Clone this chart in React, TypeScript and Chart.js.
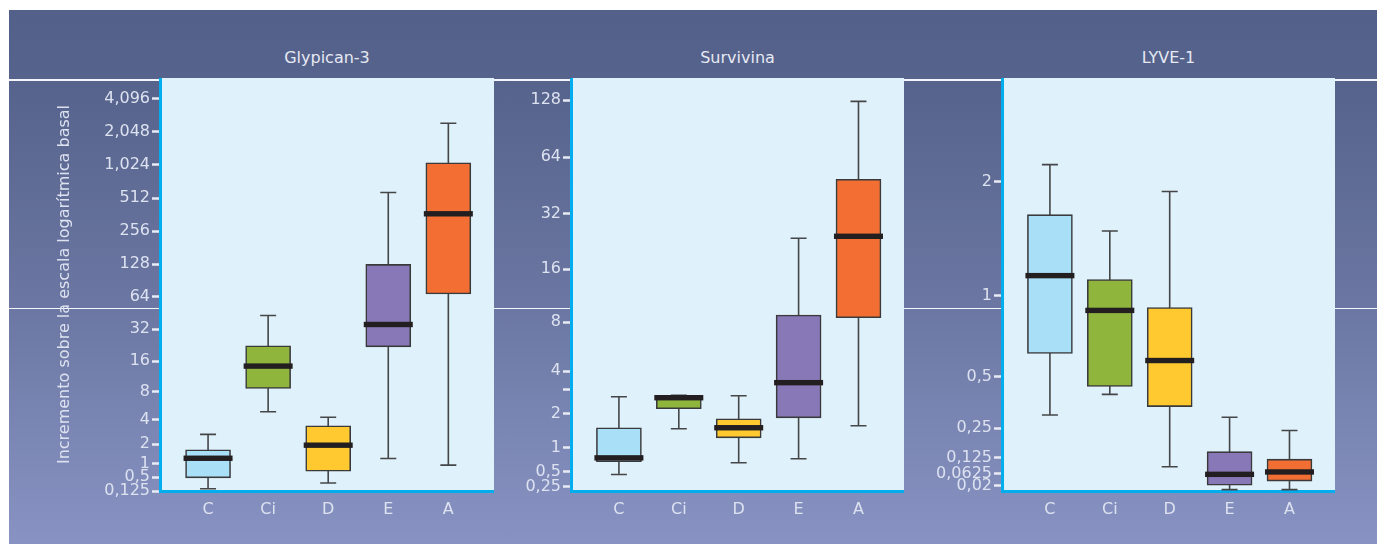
import React, { useEffect, useRef } from 'react';
import { Chart, registerables } from 'chart.js';

Chart.register(...registerables);

// ---------- data ----------
const groups = ['C', 'Ci', 'D', 'E', 'A'];
const boxColors = ['#aadff8', '#8fb53d', '#ffc92f', '#8878b8', '#f26e32'];

// Glypican-3
const glyMin = [0.18, 4.9, 0.33, 1.22, 0.93];
const glyQ1 = [0.48, 8.6, 0.7, 21.9, 68];
const glyMed = [1.23, 14.3, 1.93, 35.5, 368];
const glyQ3 = [1.66, 22.4, 3.4, 127, 1069];
const glyMax = [2.67, 43, 4.26, 574, 2445];
const glyTicks = [0.125, 0.5, 1, 2, 4, 8, 16, 32, 64, 128, 256, 512, 1024, 2048, 4096];
const glyTickLabels = ['0,125', '0,5', '1', '2', '4', '8', '16', '32', '64', '128', '256', '512', '1,024', '2,048', '4,096'];
const glyRange = [0.125, 6300];

// Survivina
const surMin = [0.45, 1.51, 0.67, 0.75, 1.6];
const surQ1 = [0.69, 2.19, 1.25, 1.86, 8.5];
const surMed = [0.77, 2.64, 1.54, 3.36, 24.2];
const surQ3 = [1.54, 2.75, 1.83, 8.8, 48.9];
const surMax = [2.68, 2.75, 2.73, 23.6, 126];
const surTicks = [0.25, 0.5, 1, 2, 3, 4, 8, 16, 32, 64, 128];
const surTickLabels = ['0,25', '0,5', '1', '2', '', '4', '8', '16', '32', '64', '128'];
const surRange = [0.19, 167];

// LYVE-1
const lyvMin = [0.31, 0.41, 0.09, 0.005, 0.005];
const lyvQ1 = [0.63, 0.45, 0.35, 0.021, 0.036];
const lyvMed = [1.15, 0.9, 0.59, 0.061, 0.07];
const lyvQ3 = [1.67, 1.12, 0.92, 0.15, 0.12];
const lyvMax = [2.19, 1.52, 1.9, 0.3, 0.24];
const lyvTicks = [0.02, 0.0625, 0.125, 0.25, 0.5, 1, 2];
const lyvTickLabels = ['0,02', '0,0625', '0,125', '0,25', '0,5', '1', '2'];
const lyvRange = [0, 3.34];

const yTitle = 'Incremento sobre la escala logarítmica basal';

// ---------- styling ----------
const FONT = '"DejaVu Sans", Lato, sans-serif';
const TEXT = '#dde2f0';
const AXIS = '#00adef';

const tf = (v: number) => Math.log2(v + 1);

type PanelCfg = {
  title: string;
  min: number[];
  q1: number[];
  med: number[];
  q3: number[];
  max: number[];
  ticks: number[];
  tickLabels: string[];
  range: number[];
  plotLeft: number;
  plotRight: number;
  axisWidth: number;
  showYTitle: boolean;
};

const panels: PanelCfg[] = [
  { title: 'Glypican-3', min: glyMin, q1: glyQ1, med: glyMed, q3: glyQ3, max: glyMax, ticks: glyTicks, tickLabels: glyTickLabels, range: glyRange, plotLeft: 160, plotRight: 494, axisWidth: 109, showYTitle: true },
  { title: 'Survivina', min: surMin, q1: surQ1, med: surMed, q3: surQ3, max: surMax, ticks: surTicks, tickLabels: surTickLabels, range: surRange, plotLeft: 571, plotRight: 904, axisWidth: 76, showYTitle: false },
  { title: 'LYVE-1', min: lyvMin, q1: lyvQ1, med: lyvMed, q3: lyvQ3, max: lyvMax, ticks: lyvTicks, tickLabels: lyvTickLabels, range: lyvRange, plotLeft: 1002, plotRight: 1335, axisWidth: 98, showYTitle: false },
];

const PLOT_TOP = 78;
const PLOT_BOTTOM = 491;
const CANVAS_BOTTOM = 530;

function Panel({ cfg }: { cfg: PanelCfg }) {
  const ref = useRef<HTMLCanvasElement>(null);
  const left = cfg.plotLeft - cfg.axisWidth;
  const width = cfg.plotRight - left;
  const height = CANVAS_BOTTOM - PLOT_TOP;

  useEffect(() => {
    if (!ref.current) return;
    const boxParts = {
      id: 'boxParts',
      beforeDraw(chart: any) {
        const { ctx, chartArea } = chart;
        ctx.save();
        ctx.fillStyle = '#dff1fa';
        ctx.fillRect(chartArea.left, chartArea.top, chartArea.right - chartArea.left, chartArea.bottom - chartArea.top);
        ctx.restore();
      },
      beforeDatasetsDraw(chart: any) {
        const { ctx } = chart;
        const xs = chart.scales.x;
        const ys = chart.scales.y;
        ctx.save();
        ctx.strokeStyle = '#444648';
        ctx.lineWidth = 1.6;
        cfg.min.forEach((mn, i) => {
          const x = xs.getPixelForValue(i);
          const yLo = ys.getPixelForValue(tf(mn));
          const yHi = ys.getPixelForValue(tf(cfg.max[i]));
          ctx.beginPath();
          ctx.moveTo(x, yLo);
          ctx.lineTo(x, yHi);
          ctx.moveTo(x - 8, yLo);
          ctx.lineTo(x + 8, yLo);
          ctx.moveTo(x - 8, yHi);
          ctx.lineTo(x + 8, yHi);
          ctx.stroke();
        });
        ctx.restore();
      },
      afterDatasetsDraw(chart: any) {
        const { ctx } = chart;
        const xs = chart.scales.x;
        const ys = chart.scales.y;
        ctx.save();
        ctx.fillStyle = '#231f20';
        cfg.med.forEach((m, i) => {
          const x = xs.getPixelForValue(i);
          const y = ys.getPixelForValue(tf(m));
          ctx.fillRect(x - 24.5, y - 2.7, 49, 5.4);
        });
        ctx.restore();
      },
    };

    const chart = new Chart(ref.current, {
      type: 'bar',
      data: {
        datasets: [
          {
            data: cfg.q1.map((q, i) => ({ x: i, y: [tf(q), tf(cfg.q3[i])] })) as any,
            backgroundColor: boxColors,
            borderColor: '#3a3a3c',
            borderWidth: 1.6,
            borderSkipped: false,
            barThickness: 45,
          },
        ],
      },
      options: {
        animation: false,
        responsive: false,
        maintainAspectRatio: false,
        layout: { padding: 0 },
        plugins: { legend: { display: false }, tooltip: { enabled: false }, title: { display: false } },
        scales: {
          x: {
            type: 'linear',
            offset: false,
            min: -0.8,
            max: 4.76,
            afterBuildTicks: (s: any) => {
              s.ticks = groups.map((_, i) => ({ value: i }));
            },
            afterFit: (s: any) => {
              s.height = CANVAS_BOTTOM - PLOT_BOTTOM;
              s.paddingLeft = 0;
              s.paddingRight = 0;
            },
            ticks: {
              callback: (_v: any, i: number) => groups[i],
              color: TEXT,
              font: { family: FONT, size: 16 },
              padding: 1,
              autoSkip: false,
              maxRotation: 0,
            },
            grid: { display: false, offset: false },
            border: { display: true, color: AXIS, width: 3 },
          },
          y: {
            type: 'linear',
            min: tf(cfg.range[0]),
            max: tf(cfg.range[1]),
            afterBuildTicks: (s: any) => {
              s.ticks = cfg.ticks.map((v) => ({ value: tf(v) }));
            },
            afterFit: (s: any) => {
              s.width = cfg.axisWidth;
              s.paddingTop = 0;
              s.paddingBottom = 0;
            },
            ticks: {
              callback: (_v: any, i: number) => cfg.tickLabels[i],
              color: TEXT,
              font: { family: FONT, size: 16 },
              padding: 2,
              autoSkip: false,
            },
            grid: { drawOnChartArea: false, drawTicks: true, tickLength: 8, tickColor: '#e8ebf5', tickWidth: 2.5 },
            border: { display: true, color: AXIS, width: 3 },
            title: {
              display: cfg.showYTitle,
              text: yTitle,
              color: TEXT,
              font: { family: FONT, size: 16 },
              padding: { top: 4, bottom: 0 },
            },
          },
        },
      },
      plugins: [boxParts],
    } as any);
    return () => chart.destroy();
  }, []);

  return (
    <canvas
      ref={ref}
      width={width}
      height={height}
      style={{ position: 'absolute', left, top: PLOT_TOP, width, height }}
    />
  );
}

export default function App() {
  return (
    <div style={{ position: 'absolute', left: 0, top: 0, width: 1377, height: 544, background: '#ffffff', overflow: 'hidden' }}>
      <div
        style={{
          position: 'absolute',
          left: 9,
          top: 10,
          right: 0,
          bottom: 0,
          background: 'linear-gradient(to bottom, #536089 0%, #56638c 14%, #6b77a2 55%, #8893c3 100%)',
        }}
      />
      <div style={{ position: 'absolute', left: 9, right: 0, top: 79, height: 1.5, background: '#f4f6fb' }} />
      <div style={{ position: 'absolute', left: 9, right: 0, top: 307.5, height: 1.5, background: '#f4f6fb' }} />
      {panels.map((p) => (
        <div
          key={p.title + '-t'}
          style={{
            position: 'absolute',
            left: (p.plotLeft + p.plotRight) / 2 - 100,
            width: 200,
            top: 48,
            lineHeight: '20px',
            textAlign: 'center',
            color: '#e6e9f3',
            fontFamily: FONT,
            fontSize: 16,
          }}
        >
          {p.title}
        </div>
      ))}
      {panels.map((p) => (
        <Panel key={p.title} cfg={p} />
      ))}
    </div>
  );
}
